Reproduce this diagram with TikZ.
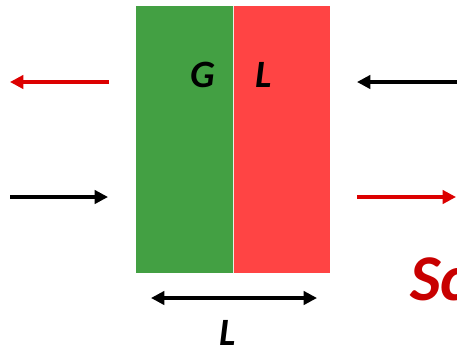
\documentclass[tikz,border=0pt]{standalone}
\usepackage{fontspec}
\setmainfont{Carlito}
\usetikzlibrary{arrows.meta}
\definecolor{gph}{RGB}{67,160,67}
\definecolor{lph}{RGB}{255,68,68}
\definecolor{arred}{RGB}{220,0,0}
\definecolor{scred}{RGB}{200,0,0}
\tikzset{
  tip/.tip={Triangle[length=10pt,width=10pt]},
  flow/.style={line width=2.4pt, -tip},
  lbl/.style={font=\fontsize{29}{30}\selectfont\bfseries\itshape, inner sep=0pt}
}
\begin{document}
\begin{tikzpicture}[x=0.75pt,y=-0.75pt]
\path[use as bounding box] (0,0) rectangle (457,350);
\clip (0,0) rectangle (457,350);
\fill[gph] (136,6) rectangle (233,273);
\fill[lph] (233,6) rectangle (330,273);
\draw[white!85!gph, line width=0.75pt] (233,6) -- (233,273);
\node[lbl] (g) at (203,75) {G};
\node[lbl] (l) at (264,75) {L};
\coordinate (a1s) at (109,82); \coordinate (a1e) at (10,82);
\coordinate (a2s) at (10,197); \coordinate (a2e) at (108,197);
\coordinate (a3s) at (457,82); \coordinate (a3e) at (357,82);
\coordinate (a4s) at (357,197); \coordinate (a4e) at (456,197);
\draw[flow, arred] (a1s) -- (a1e);
\draw[flow, black] (a2s) -- (a2e);
\draw[flow, black] (a3s) -- (a3e);
\draw[flow, arred] (a4s) -- (a4e);
\coordinate (dl) at (151,298); \coordinate (dr) at (317,298);
\draw[line width=2.4pt, tip-tip] (dl) -- (dr);
\node[lbl] (lw) at (228,333) {L};
\node[font=\fontsize{49}{50}\selectfont\bfseries\itshape, text=scred, anchor=base west, inner sep=0pt] (sc) at (410,300) {Sc};
\end{tikzpicture}
\end{document}
